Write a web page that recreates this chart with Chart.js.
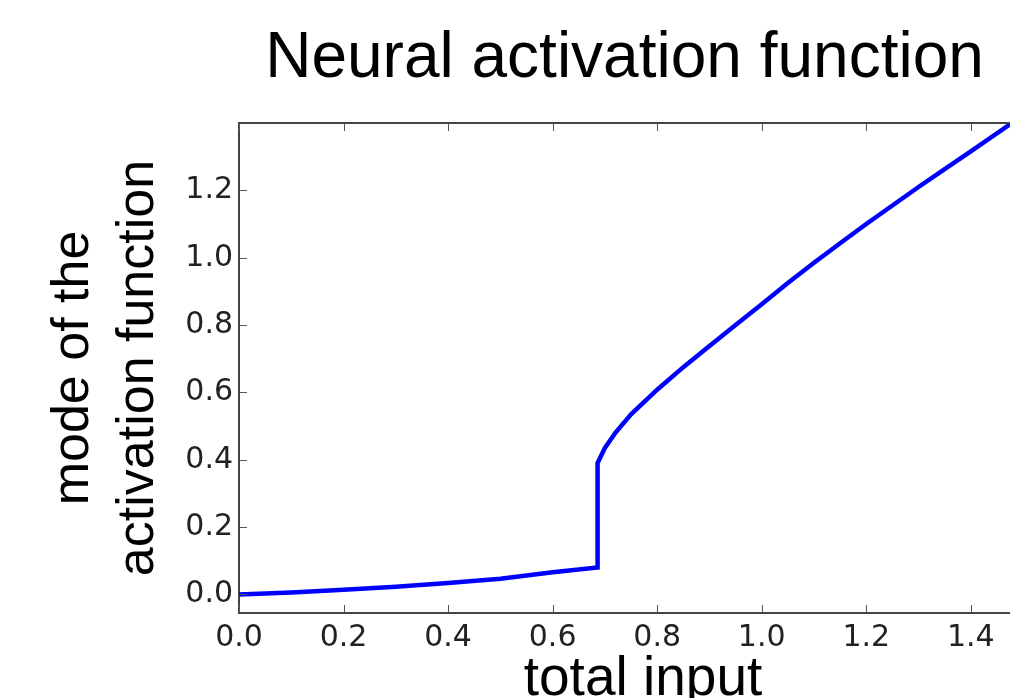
<!DOCTYPE html>
<html>
<head>
<meta charset="utf-8">
<script src="https://cdn.jsdelivr.net/npm/chart.js@4/dist/chart.umd.min.js"></script>
<style>
  html, body { margin: 0; padding: 0; background: #fff; }
  #wrap { width: 1010px; height: 698px; }
</style>
</head>
<body>
<div id="wrap"><canvas id="act-chart" width="1010" height="698"></canvas></div>
<script>
// total input (x) and mode of the activation function (y)
const inputX = [0, 0.1, 0.2, 0.3, 0.4, 0.5, 0.6, 0.686,
                0.686, 0.70, 0.72, 0.75, 0.80, 0.85, 0.90, 0.95, 1.00,
                1.05, 1.10, 1.15, 1.20, 1.25, 1.30, 1.35, 1.40, 1.475];
const modeY = [0.0, 0.006, 0.014, 0.023, 0.034, 0.047, 0.066, 0.08,
               0.39, 0.435, 0.48, 0.535, 0.608, 0.675, 0.738, 0.80, 0.862,
               0.925, 0.985, 1.043, 1.10, 1.155, 1.21, 1.263, 1.316, 1.396];

const xTicks = [0.0, 0.2, 0.4, 0.6, 0.8, 1.0, 1.2, 1.4];
const yTicks = [0.0, 0.2, 0.4, 0.6, 0.8, 1.0, 1.2];

const chartTitle = 'Neural activation function';
const xTitle = 'total input';
const yTitle = ['mode of the', 'activation function'];

// matplotlib-style frame: top line + inward tick marks, plus the titles
const framePlugin = {
  id: 'frame',
  afterDraw(chart) {
    const ctx = chart.ctx;
    const a = chart.chartArea;
    const sx = chart.scales.x, sy = chart.scales.y;
    ctx.save();
    ctx.strokeStyle = '#444';
    ctx.lineWidth = 2;
    ctx.beginPath();
    ctx.moveTo(a.left - 1, a.top);
    ctx.lineTo(a.right, a.top);
    ctx.stroke();

    ctx.lineWidth = 1;
    ctx.strokeStyle = '#555';
    ctx.beginPath();
    xTicks.forEach(v => {
      const px = Math.round(sx.getPixelForValue(v)) + 0.5;
      ctx.moveTo(px, a.bottom);
      ctx.lineTo(px, a.bottom - 8);
      ctx.moveTo(px, a.top);
      ctx.lineTo(px, a.top + 8);
    });
    yTicks.forEach(v => {
      const py = Math.round(sy.getPixelForValue(v)) + 0.5;
      ctx.moveTo(a.left, py);
      ctx.lineTo(a.left + 8, py);
    });
    ctx.stroke();

    ctx.fillStyle = '#000';
    ctx.textAlign = 'center';
    ctx.textBaseline = 'alphabetic';
    ctx.font = '64px "Liberation Sans", Arial, sans-serif';
    ctx.fillText(chartTitle, (a.left + a.right) / 2, 77);
    ctx.font = '55px "Liberation Sans", Arial, sans-serif';
    ctx.fillText(xTitle, 643, 695);
    ctx.restore();
  }
};

const act_chart = new Chart(document.getElementById('act-chart'), {
  type: 'line',
  data: {
    datasets: [{
      data: inputX.map((x, i) => ({x: x, y: modeY[i]})),
      borderColor: '#0000ff',
      borderWidth: 4.5,
      pointRadius: 0,
      tension: 0,
      fill: false
    }]
  },
  options: {
    responsive: false,
    animation: false,
    layout: { padding: { top: 123, left: 0, right: 0, bottom: 0 } },
    plugins: {
      legend: { display: false },
      title: { display: false },
      tooltip: { enabled: false }
    },
    scales: {
      x: {
        type: 'linear',
        min: 0,
        max: 1.475,
        afterBuildTicks: s => { s.ticks = xTicks.map(v => ({value: v})); },
        afterFit: s => { s.height = 85; },
        grid: { drawOnChartArea: false, drawTicks: false },
        border: { color: '#444', width: 2 },
        ticks: {
          padding: 7,
          color: '#222',
          font: { family: '"DejaVu Sans"', size: 30 },
          callback: v => v.toFixed(1)
        }
      },
      y: {
        min: -0.055,
        max: 1.40,
        afterBuildTicks: s => { s.ticks = yTicks.map(v => ({value: v})); },
        afterFit: s => { s.width = 239; },
        grid: { drawOnChartArea: false, drawTicks: false },
        border: { color: '#444', width: 2 },
        ticks: {
          padding: 6,
          color: '#222',
          font: { family: '"DejaVu Sans"', size: 30 },
          callback: v => v.toFixed(1)
        },
        title: {
          display: true,
          text: yTitle,
          color: '#000',
          padding: { top: 41, bottom: 0 },
          font: { family: '"Liberation Sans", Arial, sans-serif', size: 52, lineHeight: 1.25 }
        }
      }
    }
  },
  plugins: [framePlugin]
});
</script>
</body>
</html>
